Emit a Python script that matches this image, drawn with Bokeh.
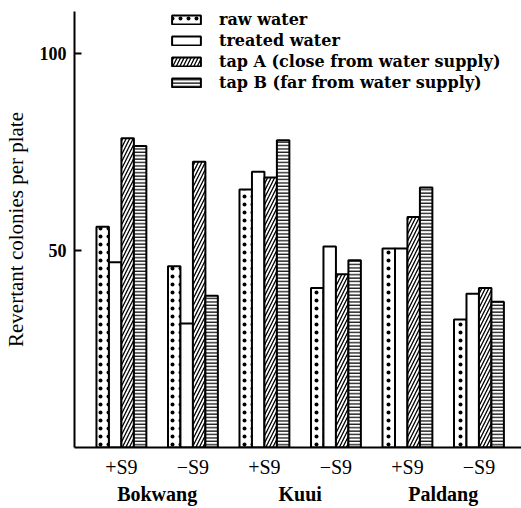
from bokeh.plotting import figure
from bokeh.models import (FixedTicker, Legend, LegendItem, Range1d,
                          ColumnDataSource, LinearAxis)
from bokeh.transform import dodge
from bokeh.embed import file_html
from bokeh.resources import INLINE

# ---- data ----
groups = ["Bokwang", "Kuui", "Paldang"]
conditions = ["+S9", "\u2212S9", "+S9", "\u2212S9", "+S9", "\u2212S9"]
series_names = ["raw water", "treated water",
                "tap A (close from water supply)",
                "tap B (far from water supply)"]
raw_water = [56, 46, 65.5, 40.5, 50.5, 32.5]
treated_water = [47, 31.5, 70, 51, 50.5, 39]
tap_a = [78.5, 72.5, 68.5, 44, 58.5, 40.5]
tap_b = [76.5, 38.5, 78, 47.5, 66, 37]
y_ticks = [50, 100]

x_pos = [i + 1 for i in range(len(conditions))]
group_pos = [2 * i + 1.5 for i in range(len(groups))]

source = ColumnDataSource(dict(x=x_pos, raw=raw_water, treated=treated_water,
                               tapa=tap_a, tapb=tap_b))

SERIF = "Liberation Serif"

p = figure(width=521, height=508, x_range=Range1d(0.344, 6.595),
           y_range=Range1d(0, 110.66), output_backend="svg",
           toolbar_location=None, min_border_left=73, min_border_right=0,
           min_border_top=11, min_border_bottom=61)
p.outline_line_color = None
p.xgrid.visible = False
p.ygrid.visible = False
p.background_fill_color = "white"
p.border_fill_color = "white"

bw = 0.1744
styles = [
    ("raw", dict(hatch_pattern="dot", hatch_scale=8, hatch_weight=1)),
    ("treated", dict()),
    ("tapa", dict(hatch_pattern="right_diagonal_line", hatch_scale=7, hatch_weight=1.3)),
    ("tapb", dict(hatch_pattern="horizontal_line", hatch_scale=3.4, hatch_weight=1.2)),
]
offsets = [-1.5 * bw, -0.5 * bw, 0.5 * bw, 1.5 * bw]
renderers = []
for (col, st), off in zip(styles, offsets):
    r = p.vbar(x=dodge("x", off), top=col, width=bw, bottom=0, source=source,
               fill_color="white", line_color="black", line_width=2,
               hatch_color="black", **st)
    renderers.append(r)

# y axis
yax = p.yaxis[0]
yax.ticker = FixedTicker(ticks=y_ticks)
yax.minor_tick_line_color = None
yax.major_tick_in = 7
yax.major_tick_out = 0
yax.major_tick_line_width = 2
yax.axis_line_width = 2
yax.major_label_standoff = 8
yax.major_label_text_font = SERIF
yax.major_label_text_font_style = "bold"
yax.major_label_text_font_size = "18px"
yax.major_label_text_color = "black"
yax.axis_label = "Revertant colonies per plate"
yax.axis_label_text_font = SERIF
yax.axis_label_text_font_style = "normal"
yax.axis_label_text_font_size = "21px"
yax.axis_label_text_color = "black"
yax.axis_label_standoff = 9

# x axis (conditions)
xax = p.xaxis[0]
xax.ticker = FixedTicker(ticks=x_pos)
xax.major_label_overrides = {x: c for x, c in zip(x_pos, conditions)}
xax.major_tick_line_color = None
xax.minor_tick_line_color = None
xax.major_tick_in = 0
xax.major_tick_out = 0
xax.axis_line_width = 2
xax.major_label_standoff = 8
xax.major_label_text_font = SERIF
xax.major_label_text_font_size = "20px"
xax.major_label_text_line_height = 1.0
xax.major_label_text_color = "black"

# group axis (site names)
gax = LinearAxis(ticker=FixedTicker(ticks=group_pos),
                 major_label_overrides={x: g for x, g in zip(group_pos, groups)},
                 axis_line_color=None, major_tick_line_color=None,
                 minor_tick_line_color=None, major_tick_in=0, major_tick_out=0,
                 major_label_standoff=2,
                 major_label_text_font=SERIF, major_label_text_font_style="bold",
                 major_label_text_font_size="20px", major_label_text_line_height=1.0,
                 major_label_text_color="black")
p.add_layout(gax, "below")

legend = Legend(items=[LegendItem(label=n, renderers=[r]) for n, r in zip(series_names, renderers)],
                location=(94, 355), padding=0, margin=0, spacing=1,
                label_height=20, glyph_width=36, glyph_height=11,
                label_standoff=15, border_line_color=None,
                background_fill_alpha=0,
                label_text_font="DejaVu Serif", label_text_font_style="bold",
                label_text_font_size="16px", label_text_color="black")
p.add_layout(legend)

open("out.html", "w").write(file_html(p, INLINE))
